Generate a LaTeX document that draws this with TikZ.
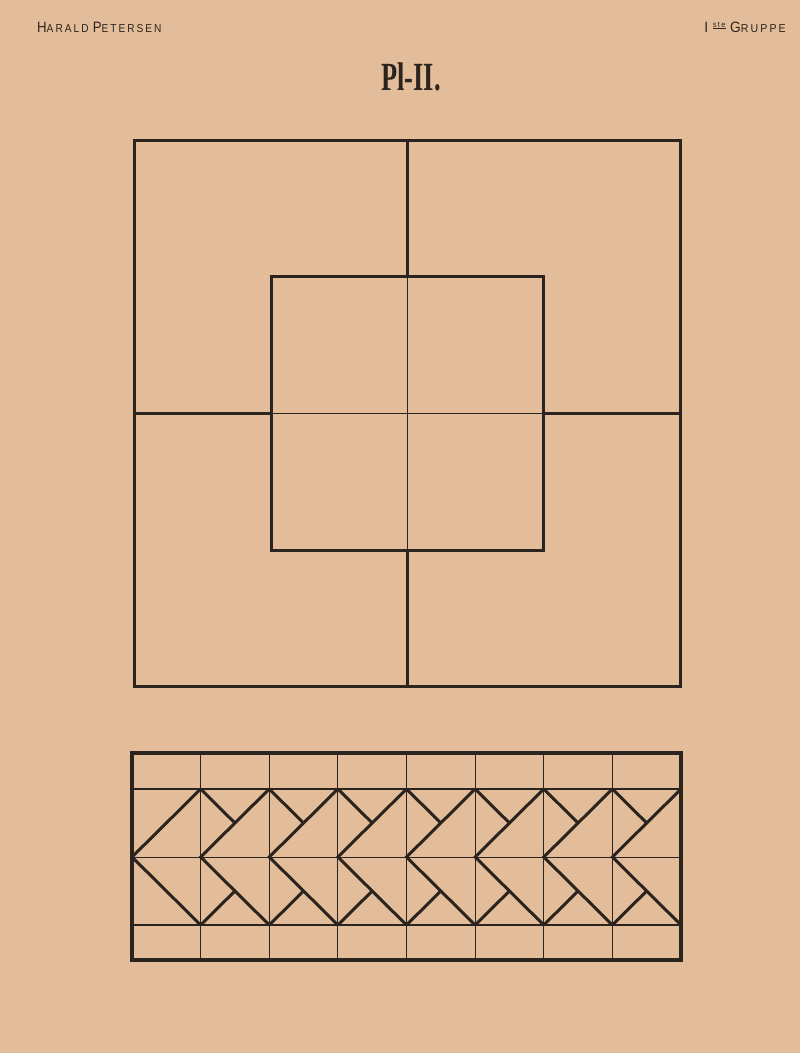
\documentclass[tikz,border=0pt]{standalone}
\usepackage{fontspec}
\usepackage{graphicx}
\newfontfamily\hdrfont[LetterSpace=20]{Liberation Sans}
\newfontfamily\titlefont{Liberation Serif}
\definecolor{paper}{RGB}{227,189,153}
\definecolor{ink}{RGB}{43,36,30}
\tikzset{
  thick line/.style={draw=ink,line width=3pt,line cap=rect},
  mid line/.style={draw=ink,line width=1.8pt},
  thin line/.style={draw=ink,line width=0.9pt},
  chev/.style={draw=ink,line width=3pt,line join=miter,line cap=butt},
  hdr/.style={inner sep=0pt,anchor=base west,text=ink},
}
\begin{document}
\begin{tikzpicture}[x=1pt,y=-1pt]
\fill[paper] (0,0) rectangle (800,1053);
\useasboundingbox (0,0) rectangle (800,1053);
% headers
\node[hdr] (author) at (37,32) {\hdrfont\scalebox{0.88}[1]{{\fontsize{15}{15}\selectfont H}{\fontsize{11.5}{11.5}\selectfont ARALD} {\fontsize{15}{15}\selectfont P}{\fontsize{11.5}{11.5}\selectfont ETERSEN}}};
\node[hdr,anchor=base east] (group) at (786,32) {\hdrfont\scalebox{0.92}[1]{{\fontsize{15}{15}\selectfont I}\hspace{5pt}\raisebox{5pt}{\underline{\fontsize{8}{8}\selectfont ste}}\hspace{5pt}{\fontsize{15}{15}\selectfont G}{\fontsize{11.5}{11.5}\selectfont RUPPE}}};
% title
\node[inner sep=0pt,anchor=base,text=ink] (title) at (411,90) {\titlefont\bfseries\scalebox{0.66}[1]{\fontsize{40}{40}\selectfont Pl-II.}};
% main square
\coordinate (c) at (407,413);
\draw[thin line] (407,276) -- (407,550);
\draw[thin line] (271,413) -- (543,413);
\draw[thick line] (407,140) -- (407,276);
\draw[thick line] (407,550) -- (407,686);
\draw[thick line] (134,413) -- (271,413);
\draw[thick line] (543,413) -- (680,413);
\draw[thick line] (271,276) rectangle (543,550);
\draw[thick line] (134,140) rectangle (680,686);
% border band
\pgfmathsetmacro{\w}{(681-132)/8}
\foreach \k in {1,...,7} {
  \draw[thin line] ({132+\k*\w},753) -- ({132+\k*\w},960);
}
\draw[thin line] (132,857) -- (681,857);
\draw[mid line] (132,789) -- (681,789);
\draw[mid line] (132,925) -- (681,925);
\foreach \k in {0,...,7} {
  \pgfmathsetmacro{\xa}{132+\k*\w}
  \pgfmathsetmacro{\xb}{132+(\k+1)*\w}
  \draw[chev] (\xb,789) -- (\xa,857) -- (\xb,925);
}
\foreach \k in {0,...,6} {
  \pgfmathsetmacro{\xb}{132+(\k+1)*\w}
  \pgfmathsetmacro{\xc}{132+(\k+1.5)*\w}
  \draw[chev] (\xb,789) -- (\xc,823);
  \draw[chev] (\xb,925) -- (\xc,891);
}
\draw[draw=ink,line width=3.5pt] (132,753) rectangle (681,960);
\end{tikzpicture}
\end{document}
